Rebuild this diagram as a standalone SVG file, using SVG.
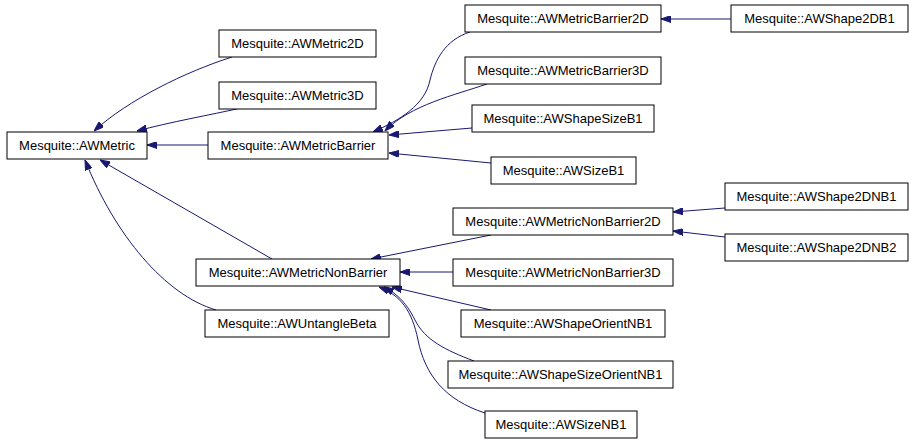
<svg xmlns="http://www.w3.org/2000/svg" width="915" height="443" viewBox="0 0 915 443">
<style>
.n rect{fill:#fff;stroke:#000;stroke-width:1}
.n text{font-family:"Liberation Sans",Arial,sans-serif;font-size:13px;fill:#000;text-anchor:middle}
.e path{fill:none;stroke:#191970;stroke-width:1;marker-end:url(#ah)}
</style>
<defs>
<marker id="ah" viewBox="0 0 10 7" refX="10" refY="3.5" markerWidth="10" markerHeight="7" markerUnits="userSpaceOnUse" orient="auto">
<path d="M0,0 L10,3.5 L0,7 z" fill="#191970" stroke="#191970"/>
</marker>
</defs>
<rect width="915" height="443" fill="#fff"/>
<g id="edges" class="e">
<path d="M232,57 C185,72 128,100 94,131"/>
<path d="M241,108 C210,115 170,122 137,131"/>
<path d="M208,145 L147,145"/>
<path d="M272,259 L100,160"/>
<path d="M216,310 C165,295 115,235 85,160"/>
<path d="M470,32 C445,40 435,60 430,80 C425,105 400,120 373,132"/>
<path d="M487,84 C455,95 410,105 385,131"/>
<path d="M472,128 L389,135"/>
<path d="M491,163 L389,153"/>
<path d="M731,19 L661,19"/>
<path d="M491,235 L371,259"/>
<path d="M453,272 L400,272"/>
<path d="M491,310 L392,287"/>
<path d="M474,361 C445,350 425,340 415,320 C405,300 395,293 384,287"/>
<path d="M485,413 C445,400 425,375 418,340 C412,310 400,295 379,287"/>
<path d="M725,208 L673,212"/>
<path d="M725,237 L673,231"/>
</g>
<g id="AWMetric" class="n"><rect x="7" y="132" width="140" height="27"/><text x="77" y="150">Mesquite::AWMetric</text></g>
<g id="AWMetric2D" class="n"><rect x="219" y="30" width="157" height="27"/><text x="297.5" y="48">Mesquite::AWMetric2D</text></g>
<g id="AWMetric3D" class="n"><rect x="219" y="82" width="157" height="27"/><text x="297.5" y="100">Mesquite::AWMetric3D</text></g>
<g id="AWMetricBarrier" class="n"><rect x="208" y="132" width="180" height="27"/><text x="298" y="150">Mesquite::AWMetricBarrier</text></g>
<g id="AWMetricNonBarrier" class="n"><rect x="196" y="259" width="204" height="27"/><text x="298" y="277">Mesquite::AWMetricNonBarrier</text></g>
<g id="AWUntangleBeta" class="n"><rect x="205" y="310" width="184" height="27"/><text x="297" y="328">Mesquite::AWUntangleBeta</text></g>
<g id="AWMetricBarrier2D" class="n"><rect x="465" y="5" width="196" height="27"/><text x="563" y="23">Mesquite::AWMetricBarrier2D</text></g>
<g id="AWMetricBarrier3D" class="n"><rect x="465" y="57" width="196" height="27"/><text x="563" y="75">Mesquite::AWMetricBarrier3D</text></g>
<g id="AWShapeSizeB1" class="n"><rect x="472" y="105" width="182" height="27"/><text x="563" y="123">Mesquite::AWShapeSizeB1</text></g>
<g id="AWSizeB1" class="n"><rect x="491" y="157" width="145" height="27"/><text x="563.5" y="175">Mesquite::AWSizeB1</text></g>
<g id="AWShape2DB1" class="n"><rect x="731" y="5" width="177" height="27"/><text x="819.5" y="23">Mesquite::AWShape2DB1</text></g>
<g id="AWMetricNonBarrier2D" class="n"><rect x="453" y="208" width="220" height="27"/><text x="563" y="226">Mesquite::AWMetricNonBarrier2D</text></g>
<g id="AWMetricNonBarrier3D" class="n"><rect x="453" y="259" width="220" height="27"/><text x="563" y="277">Mesquite::AWMetricNonBarrier3D</text></g>
<g id="AWShapeOrientNB1" class="n"><rect x="461" y="310" width="204" height="27"/><text x="563" y="328">Mesquite::AWShapeOrientNB1</text></g>
<g id="AWShapeSizeOrientNB1" class="n"><rect x="448" y="361" width="225" height="27"/><text x="560.5" y="379">Mesquite::AWShapeSizeOrientNB1</text></g>
<g id="AWSizeNB1" class="n"><rect x="485" y="411" width="152" height="27"/><text x="561" y="429">Mesquite::AWSizeNB1</text></g>
<g id="AWShape2DNB1" class="n"><rect x="725" y="183" width="183" height="27"/><text x="816.5" y="201">Mesquite::AWShape2DNB1</text></g>
<g id="AWShape2DNB2" class="n"><rect x="725" y="234" width="183" height="27"/><text x="816.5" y="252">Mesquite::AWShape2DNB2</text></g>
</svg>
